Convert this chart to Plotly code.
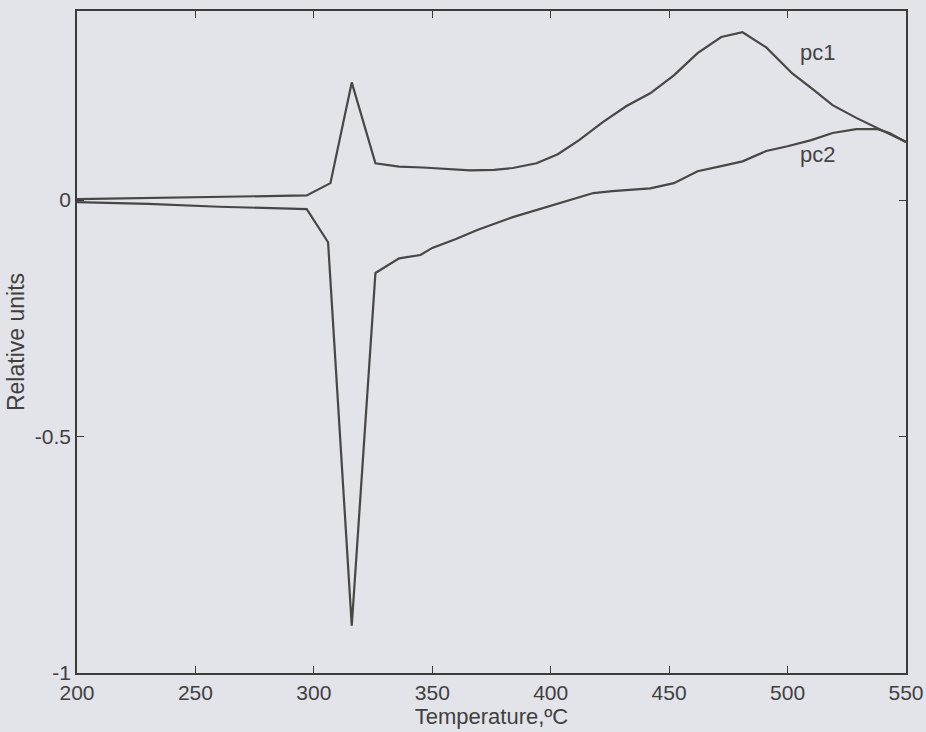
import plotly.graph_objects as go

# Principal component loadings versus temperature
pc1_temp = [200, 230, 260, 297, 307, 316, 326, 336, 346, 356, 366, 376, 384, 394, 403,
            412, 422, 432, 442, 452, 462, 472, 481, 491, 502, 511, 519, 529, 538, 550]
pc1_vals = [0.002, 0.004, 0.006, 0.010, 0.036, 0.249, 0.078, 0.071, 0.069, 0.066, 0.063, 0.064,
            0.068, 0.078, 0.097, 0.127, 0.165, 0.199, 0.226, 0.264, 0.311, 0.345, 0.355, 0.323,
            0.268, 0.233, 0.201, 0.174, 0.152, 0.123]

pc2_temp = [200, 230, 260, 297, 306, 316, 326, 336, 345, 350, 360, 369, 384, 401, 418,
            426, 442, 452, 462, 472, 481, 491, 500, 510, 519, 529, 538, 543, 550]
pc2_vals = [-0.004, -0.008, -0.014, -0.019, -0.089, -0.900, -0.154, -0.123, -0.116, -0.101,
            -0.082, -0.063, -0.036, -0.011, 0.015, 0.019, 0.025, 0.036, 0.061, 0.072, 0.082,
            0.104, 0.114, 0.127, 0.142, 0.150, 0.150, 0.142, 0.123]

x_ticks = [200, 250, 300, 350, 400, 450, 500, 550]
y_ticks = [-1, -0.5, 0]
y_tick_text = ["-1", "-0.5", "0"]

line_color = "#474747"
bg = "#e3e3ea"
sans = "Liberation Sans, Arial, sans-serif"

fig = go.Figure()
fig.add_trace(go.Scatter(x=pc1_temp, y=pc1_vals, mode="lines", name="pc1",
                         line=dict(color=line_color, width=2.2)))
fig.add_trace(go.Scatter(x=pc2_temp, y=pc2_vals, mode="lines", name="pc2",
                         line=dict(color=line_color, width=2.2)))

label_font = dict(family="Liberation Sans Narrow, Arial Narrow, sans-serif", size=22, color="#444444")
fig.add_annotation(x=512.5, y=0.312, text="pc1", showarrow=False, font=label_font)
fig.add_annotation(x=512.5, y=0.096, text="pc2", showarrow=False, font=label_font)

axis_common = dict(showline=True, linecolor="#3c3c3c", linewidth=1.5, mirror="ticks",
                   ticks="inside", ticklen=7, tickwidth=1.3, tickcolor="#3c3c3c",
                   showgrid=False, zeroline=False, automargin=False,
                   tickfont=dict(family=sans, size=21, color="#404040"))

fig.update_xaxes(range=[200, 550], tickvals=x_ticks,
                 title=dict(text="Temperature,ºC", standoff=0,
                            font=dict(family=sans, size=22, color="#404040")),
                 **axis_common)
fig.update_yaxes(range=[-1, 0.4], tickvals=y_ticks, ticktext=y_tick_text,
                 title=dict(text="Relative units", standoff=4,
                            font=dict(family=sans, size=23, color="#404040")),
                 **axis_common)

fig.update_layout(width=926, height=732, showlegend=False,
                  margin=dict(l=77, r=20, t=11, b=59),
                  paper_bgcolor=bg, plot_bgcolor=bg)

fig.write_html("out.html")
